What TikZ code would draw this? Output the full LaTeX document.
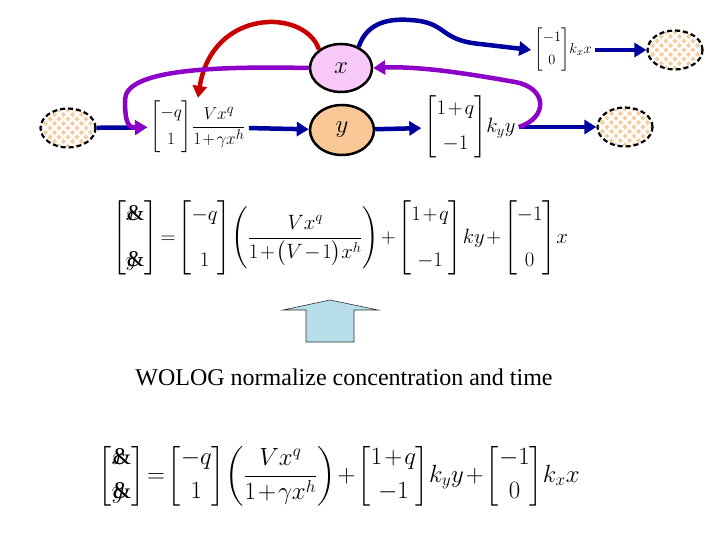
\documentclass[tikz,border=0pt]{standalone}
\usepackage{amsmath}
\usepackage{fontspec}
\setmainfont{Liberation Serif}
\usetikzlibrary{arrows.meta,positioning,shapes.geometric,calc}
\definecolor{FlowBlue}{HTML}{0000A0}
\definecolor{FeedRed}{HTML}{C80000}
\definecolor{FeedPurple}{HTML}{8C00C8}
\definecolor{SpeciesPink}{HTML}{F8C8F8}
\definecolor{SpeciesPeach}{HTML}{F9C896}
\definecolor{ChequerTan}{HTML}{F4CFA4}
\definecolor{ArrowSky}{HTML}{B7DEE8}

% broken dot glyph: letter with an ampersand over it
\newcommand{\ampdot}[1]{\text{\makebox[0pt][l]{$#1$}\kern1pt\&}}
% tight equation spacing
\newcommand{\tighteq}{\thickmuskip=2mu\medmuskip=1.5mu\arraycolsep=3pt}

\begin{document}
\begin{tikzpicture}[
        x=1pt, y=-1pt,
        species/.style={
                ellipse,
                draw=black,
                line width=2.5pt,
                minimum width=62pt,
                minimum height=48pt,
                inner sep=0pt,
                font=\fontsize{26}{30}\selectfont
            },
        pool/.style={
                ellipse,
                draw=black,
                line width=2.2pt,
                dash pattern=on 5pt off 3pt,
                minimum width=55pt,
                minimum height=39pt,
                fill=white,
                path picture={
                        \foreach \i in {-6,...,6}{
                                \foreach \j in {-4,...,4}{
                                        \ifodd\numexpr\i+\j+20\relax\else
                                            \fill[ChequerTan] ($(path picture bounding box.center)+(\i*4.5pt,\j*4.5pt)$)
                                            +(0pt,2.6pt) -- +(2.6pt,0pt) -- +(0pt,-2.6pt) -- +(-2.6pt,0pt) -- cycle;
                                        \fi
                                    }
                            }
                    }
            },
        term/.style={inner sep=3pt},
        flow/.style={-{Triangle[length=12pt,width=14pt]}, line width=4.5pt, draw=FlowBlue},
        feedred/.style={flow, draw=FeedRed},
        feedpurple/.style={flow, draw=FeedPurple},
    ]
    \useasboundingbox (0,0) rectangle (720,540);

    % species and pools
    \node[species, fill=SpeciesPink] (xnode) at (341,68) {$x$};
    \node[species, fill=SpeciesPeach, minimum width=64pt, minimum height=50pt] (ynode) at (342,130) {$y$};
    \node[pool] (src) at (68,128) {};
    \node[pool] (sinkA) at (675,50) {};
    \node[pool] (sinkB) at (625,127) {};

    % reaction terms
    \node[term, font=\fontsize{19}{22}\selectfont] (mleft) at (198,127)
    {$\tighteq\begin{bmatrix}-q\\[5pt] 1\end{bmatrix}\!\dfrac{Vx^q}{1+\gamma x^h}$};
    \node[term, font=\fontsize{15}{17}\selectfont] (mtop) at (563,50)
    {$\tighteq\begin{bmatrix}-1\\[6pt] 0\end{bmatrix}\!k_x x$};
    \node[term, font=\fontsize{21}{24}\selectfont] (mright) at (470,127)
    {$\tighteq\begin{bmatrix}1+q\\[11pt] -1\end{bmatrix}\!k_y y$};

    % flows
    \draw[flow] (src) -- (mleft);
    \draw[flow] (mleft) -- (ynode);
    \draw[flow] (ynode) -- (mright);
    \draw[flow] (mright) -- (sinkB);
    \draw[flow] (mtop) -- (sinkA);
    \draw[flow] (xnode.50) .. controls (366,25) and (385,18) .. (410,20)
    .. controls (448,22) and (438,40) .. (480,44) -- (mtop.west);

    % feedback
    \draw[feedred] (xnode.140) .. controls (305,8) and (212,8) .. (mleft.north);
    \draw[feedpurple] (xnode.west) .. controls (210,66) and (125,70) .. (125,100)
    .. controls (125,122) and (128,128) .. (mleft.west);
    \draw[feedpurple] (mright.east) .. controls (548,118) and (548,88) .. (515,82)
    .. controls (470,74) and (420,66) .. (xnode.east);

    % full model
    \node[font=\fontsize{22.5}{26}\selectfont] (eqfull) at (340,238)
    {$\tighteq\begin{bmatrix}\ampdot{x}\\[20pt] \ampdot{y}\end{bmatrix}
            =\begin{bmatrix}-q\\[20pt] 1\end{bmatrix}\!
            \left(\dfrac{Vx^q}{1+\bigl(V-1\bigr)x^h}\rule[-22pt]{0pt}{58pt}\right)
            +\begin{bmatrix}1+q\\[20pt] -1\end{bmatrix}\!ky
            +\begin{bmatrix}-1\\[20pt] 0\end{bmatrix}\!x$};

    % normalisation arrow
    \draw[draw=black!80, fill=ArrowSky, line width=0.6pt]
    (306,342) -- (306,310) -- (283,310) -- (330,300) -- (378,310) -- (354,310) -- (354,342) -- cycle;

    \node[font=\fontsize{24}{28}\selectfont] (note) at (344,377) {WOLOG normalize concentration and time};

    % normalised model
    \node[font=\fontsize{24}{28}\selectfont] (eqnorm) at (339,476)
    {$\tighteq\begin{bmatrix}\ampdot{x}\\[6pt] \ampdot{y}\end{bmatrix}
            =\begin{bmatrix}-q\\[6pt] 1\end{bmatrix}\!
            \left(\dfrac{Vx^q}{1+\gamma x^h}\rule[-20pt]{0pt}{52pt}\right)
            +\begin{bmatrix}1+q\\[6pt] -1\end{bmatrix}\!k_y y
            +\begin{bmatrix}-1\\[6pt] 0\end{bmatrix}\!k_x x$};
\end{tikzpicture}
\end{document}
